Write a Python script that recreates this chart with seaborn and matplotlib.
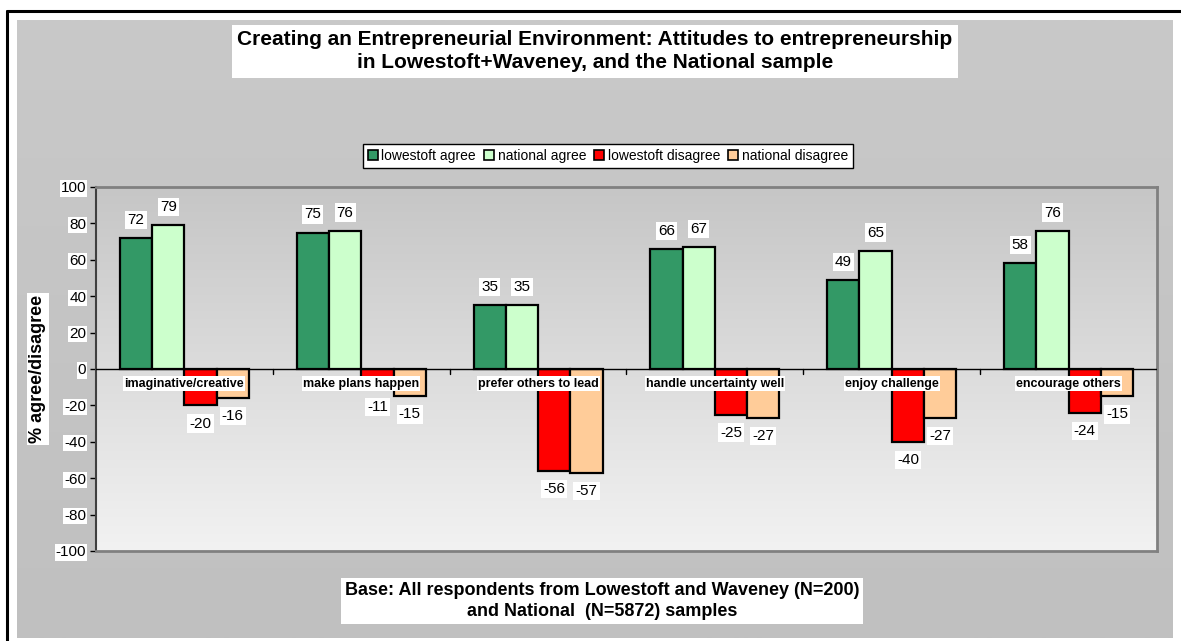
import numpy as np
import pandas as pd
import matplotlib
matplotlib.use("Agg")
import matplotlib.pyplot as plt
from matplotlib.lines import Line2D
from matplotlib.patches import Patch
from matplotlib.colors import LinearSegmentedColormap
import seaborn as sns

# data
categories = ["imaginative/creative", "make plans happen", "prefer others to lead",
              "handle uncertainty well", "enjoy challenge", "encourage others"]
series = ["lowestoft agree", "national agree", "lowestoft disagree", "national disagree"]
lowestoft_agree = [72, 75, 35, 66, 49, 58]
national_agree = [79, 76, 35, 67, 65, 76]
lowestoft_disagree = [-20, -11, -56, -25, -40, -24]
national_disagree = [-16, -15, -57, -27, -27, -15]
colors = ["#339966", "#CCFFCC", "#FF0000", "#FFCC99"]
yticks = list(range(-100, 101, 20))

title = ("Creating an Entrepreneurial Environment: Attitudes to entrepreneurship\n"
         "in Lowestoft+Waveney, and the National sample")
footer = ("Base: All respondents from Lowestoft and Waveney (N=200)\n"
          "and National  (N=5872) samples")

df = pd.DataFrame({
    "category": categories * 4,
    "series": np.repeat(series, len(categories)),
    "value": lowestoft_agree + national_agree + lowestoft_disagree + national_disagree,
})

sns.set_theme(style="white")
plt.rcParams["font.family"] = ["Liberation Sans", "DejaVu Sans"]
plt.rcParams["axes.unicode_minus"] = False
plt.rcParams["text.color"] = "black"
plt.rcParams["ytick.color"] = "black"

W, H = 1181, 641
fig = plt.figure(figsize=(W / 100, H / 100), dpi=100, facecolor="white")

# outer grey panel with a faint gradient
bg = fig.add_axes([17 / W, 3 / H, 1156 / W, 618 / H], zorder=-5)
bg_cmap = LinearSegmentedColormap.from_list("bg", ["#c9c9c9", "#c0c0c0"])
bg.imshow(np.linspace(0, 1, 256).reshape(-1, 1), cmap=bg_cmap, aspect="auto",
          extent=[0, 1, 0, 1], origin="upper")
bg.axis("off")

# black frame at top / left
fig.add_artist(Line2D([7 / W, 7 / W], [0, 1 - 11 / H], color="black", lw=2.2,
                      transform=fig.transFigure))
fig.add_artist(Line2D([7 / W, 1], [1 - 11 / H, 1 - 11 / H], color="black", lw=2.2,
                      transform=fig.transFigure))

ax = fig.add_axes([96 / W, 1 - 551 / H, (1157 - 96) / W, (551 - 187) / H])

sns.barplot(data=df, x="category", y="value", hue="series", order=categories,
            hue_order=series, palette=colors, width=0.73, dodge=True,
            edgecolor="black", linewidth=1.6, saturation=1, legend=False, ax=ax, zorder=3)

# plot area gradient, darker at the top
pa_cmap = LinearSegmentedColormap.from_list("pa", ["#c6c6c6", "#f2f2f2"])
ax.imshow(np.linspace(0, 1, 256).reshape(-1, 1), cmap=pa_cmap, aspect="auto",
          extent=[-0.5, len(categories) - 0.5, -100, 100], origin="upper", zorder=0)
ax.set_ylim(-100, 100)
ax.set_xlim(-0.5, len(categories) - 0.5)

for s in ax.spines.values():
    s.set_color("#808080")
    s.set_linewidth(2)
ax.spines["left"].set_color("#404040")
ax.spines["left"].set_linewidth(1.5)

ax.axhline(0, color="black", lw=1, zorder=4)
for b in np.arange(0.5, len(categories) - 0.5, 1):
    ax.plot([b, b], [0, -2.5], color="black", lw=1, zorder=4)

ax.set_xticks([])
ax.set_xlabel("")
ax.set_ylabel("")
ax.set_yticks(yticks)
ax.tick_params(axis="y", direction="out", length=4, width=1, color="black",
               labelsize=11, pad=3, left=True, labelcolor="black")
for lbl in ax.get_yticklabels():
    lbl.set_bbox(dict(facecolor="white", edgecolor="none", pad=0.8))

for c in ax.containers:
    ax.bar_label(c, padding=8, fontsize=11, zorder=6, color="black",
                 bbox=dict(facecolor="white", edgecolor="none", pad=1.5))

for i, cat in enumerate(categories):
    ax.text(i, -8, cat, ha="center", va="center", fontsize=9, fontweight="bold",
            color="black", zorder=7,
            bbox=dict(facecolor="white", edgecolor="none", pad=0.8))

fig.text(38 / W, 1 - 369 / H, "% agree/disagree", rotation=90, ha="center", va="center",
         fontsize=13, fontweight="bold", color="black",
         bbox=dict(facecolor="white", edgecolor="none", pad=1.5))

fig.text(595 / W, 1 - 51 / H, title, ha="center", va="center", fontsize=15,
         fontweight="bold", linespacing=1.25, color="black",
         bbox=dict(facecolor="white", edgecolor="none", pad=4))

fig.text(602 / W, 1 - 601 / H, footer, ha="center", va="center", fontsize=13,
         fontweight="bold", linespacing=1.25, color="black",
         bbox=dict(facecolor="white", edgecolor="none", pad=3))

handles = [Patch(facecolor=col, edgecolor="black", linewidth=1.2) for col in colors]
fig.legend(handles, series, loc="center", bbox_to_anchor=(608 / W, 1 - 156 / H),
           ncol=4, fontsize=10, frameon=True, fancybox=False, edgecolor="black",
           facecolor="white", framealpha=1, handlelength=0.7, handleheight=0.7,
           handletextpad=0.25, columnspacing=0.6, borderpad=0.35)

fig.savefig("out.png", dpi=100)
